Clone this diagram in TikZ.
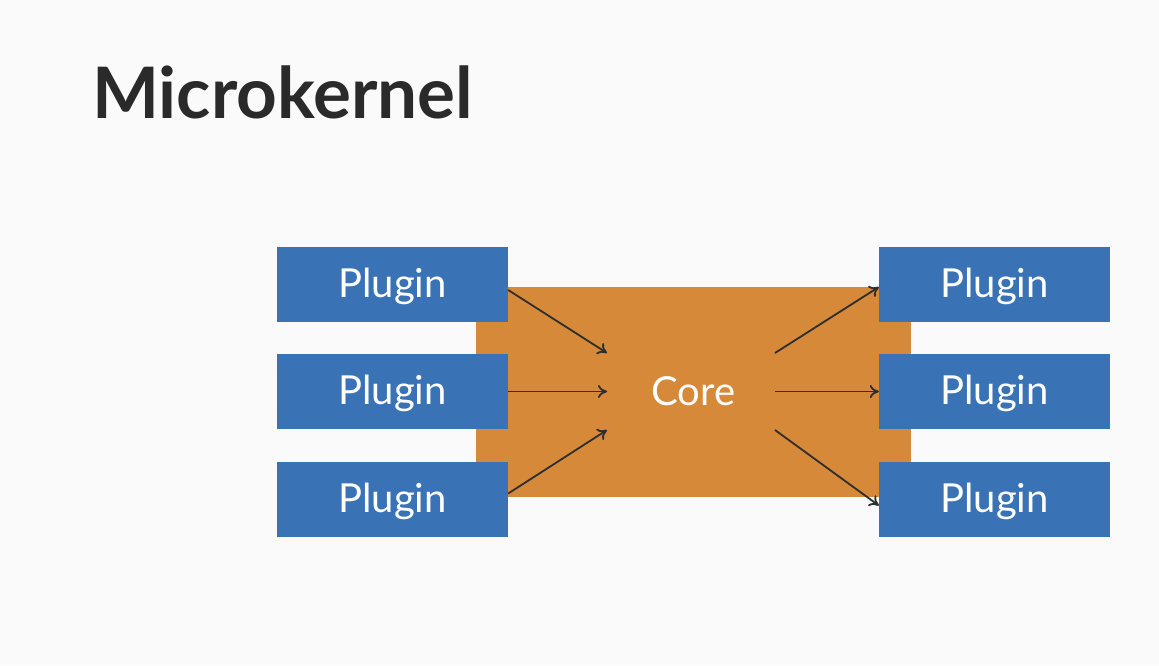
\documentclass[tikz,border=0pt]{standalone}
\usepackage{fontspec}
\setmainfont{Lato}
\usetikzlibrary{arrows.meta}
\definecolor{plugblue}{HTML}{3A72B6}
\definecolor{coreorange}{HTML}{D68939}
\definecolor{titlegray}{HTML}{2A2A2A}
\definecolor{arrowgray}{HTML}{2E2E2E}
\tikzset{
  plugin/.style={fill=plugblue,text=white,minimum width=231pt,minimum height=75pt,inner sep=0pt,text height=30pt,text depth=4pt,font=\fontsize{40}{42}\selectfont},
  flow/.style={arrowgray,line width=1.8pt,-{To[length=9pt,width=13pt]}}
}

\begin{document}
\begin{tikzpicture}[x=1pt,y=-1pt]
\fill[white!98!black](0,0)rectangle(1159,665);
\useasboundingbox(0,0)rectangle(1159,665);
\node[anchor=base west,text=titlegray,inner sep=0pt,font=\fontsize{71}{75}\selectfont\bfseries](title)at(92,118){Microkernel};
\node[fill=coreorange,text=white,minimum width=435pt,minimum height=210pt,inner sep=0pt,text height=30pt,text depth=4pt,font=\fontsize{40}{42}\selectfont](core)at(693.5,392){Core};
\foreach \n/\y in {1/284,2/391.5,3/499.5}{
  \node[plugin](inp\n)at(392.5,\y){Plugin};
  \node[plugin](outp\n)at(994.5,\y){Plugin};
}
% arrow ends round the core label
\coordinate(in1)at(607,353);
\coordinate(in2)at(607,391.5);
\coordinate(in3)at(607,430);
\coordinate(out1)at(775,353);
\coordinate(out2)at(775,391.5);
\coordinate(out3)at(775,430);
\draw[flow]([yshift=-6pt]inp1.east)--(in1);
\draw[flow](inp2.east)--(in2);
\draw[flow]([yshift=6pt]inp3.east)--(in3);
\draw[flow](out1)--([yshift=-3pt]outp1.west);
\draw[flow](out2)--(outp2.west);
\draw[flow](out3)--([yshift=-6pt]outp3.west);
\end{tikzpicture}
\end{document}
